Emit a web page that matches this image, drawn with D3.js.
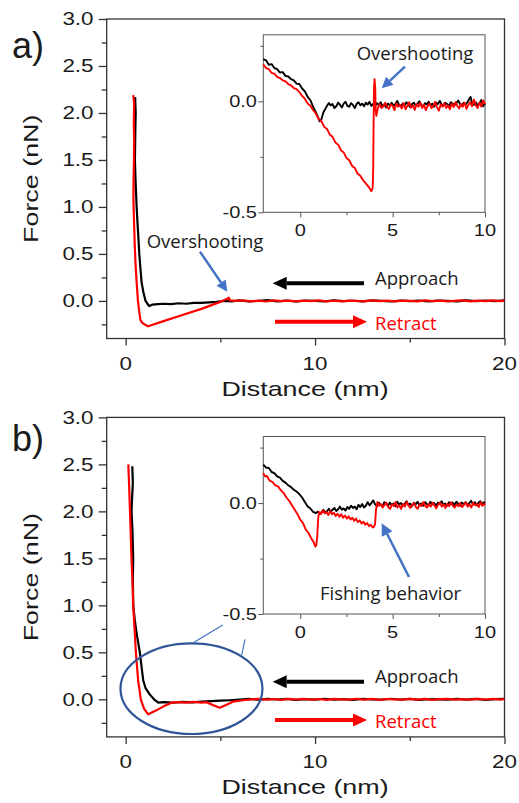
<!DOCTYPE html>
<html><head><meta charset="utf-8">
<script src="https://cdn.jsdelivr.net/npm/d3@7"></script>
<style>
html,body{margin:0;padding:0;background:#fff;}
svg{display:block;}
text{font-family:"Liberation Sans",Arial,sans-serif;}
.ann{font-family:"Open Sans","Noto Sans",sans-serif;}
</style></head>
<body>
<svg id="chart" width="519" height="803"></svg>
<script>
// ---------------- DATA ----------------
const mainYTicks = [0.0, 0.5, 1.0, 1.5, 2.0, 2.5, 3.0];
const mainYMinor = [-0.25, 0.25, 0.75, 1.25, 1.75, 2.25, 2.75];
const mainXTicks = [0, 10, 20];
const mainXMinor = [5, 15];
const insetYTicks = [0.0, -0.5];
const insetYMinor = [0.25, -0.25];
const insetXTicks = [0, 5, 10];
const insetXMinor = [2.5, 7.5];
const panelLabels = ["a)", "b)"];

// Panel a, main curves [distance nm, force nN]
const aApproach = [[0.50,2.17],[0.53,2.00],[0.51,1.80],[0.49,1.50],[0.52,1.30],[0.55,1.15],[0.58,1.00],[0.62,0.85],[0.68,0.65],[0.72,0.50],[0.78,0.35],[0.84,0.20],[0.93,0.10],[1.05,0.00],[1.15,-0.03],[1.24,-0.055],[1.40,-0.04],[1.70,-0.035],[2.00,-0.030],[2.40,-0.035],[2.80,-0.025],[3.20,-0.030],[3.60,-0.020],[4.00,-0.020],[4.40,-0.015],[4.80,-0.010],[5.20,0.000],[5.60,-0.005],[6.00,0.005],[6.50,-0.005],[7.00,0.000],[7.50,0.008],[8.00,-0.004],[8.50,0.003],[9.00,-0.006],[9.50,0.004],[10.0,0.000],[10.5,-0.005],[11.0,0.006],[11.5,-0.003],[12.0,0.002],[12.5,-0.004],[13.0,0.005],[13.5,0.000],[14.0,-0.006],[14.5,0.004],[15.0,-0.002],[15.5,0.003],[16.0,-0.005],[16.5,0.004],[17.0,0.000],[17.5,-0.004],[18.0,0.006],[18.5,-0.002],[19.0,0.003],[19.5,-0.003],[20.0,0.005]];
const aRetract = [[0.40,2.19],[0.45,2.10],[0.43,1.90],[0.45,1.70],[0.44,1.50],[0.42,1.30],[0.41,1.10],[0.42,1.00],[0.45,0.80],[0.48,0.60],[0.52,0.40],[0.58,0.20],[0.65,0.00],[0.72,-0.12],[0.78,-0.20],[0.86,-0.23],[1.00,-0.25],[1.19,-0.27],[2.00,-0.215],[3.00,-0.150],[4.00,-0.085],[5.00,-0.010],[5.35,0.020],[5.45,0.035],[5.50,0.005],[5.80,0.000],[6.20,0.006],[6.60,-0.004],[7.00,0.003],[7.40,-0.006],[7.80,0.005],[8.20,-0.002],[8.60,0.004],[9.00,-0.005],[9.40,0.003],[9.80,-0.003],[10.2,0.006],[10.6,-0.004],[11.0,0.002],[11.4,-0.005],[11.8,0.004],[12.2,0.000],[12.6,-0.004],[13.0,0.006],[13.4,-0.003],[13.8,0.004],[14.2,-0.005],[14.6,0.003],[15.0,0.000],[15.4,-0.004],[15.8,0.005],[16.2,-0.003],[16.6,0.004],[17.0,-0.005],[17.4,0.002],[17.8,0.005],[18.2,-0.004],[18.6,0.003],[19.0,-0.003],[19.4,0.005],[19.8,-0.002],[20.0,0.003]];

// Panel a, inset curves
const aInsetApproach = [[-2.00,0.19],[-1.85,0.185],[-1.70,0.165],[-1.55,0.168],[-1.40,0.15],[-1.25,0.145],[-1.10,0.13],[-0.95,0.132],[-0.80,0.115],[-0.65,0.112],[-0.50,0.10],[-0.35,0.095],[-0.20,0.08],[-0.05,0.078],[0.10,0.058],[0.25,0.045],[0.40,0.02],[0.55,0.005],[0.70,-0.025],[0.85,-0.05],[0.95,-0.07],[1.05,-0.09],[1.15,-0.08],[1.25,-0.05],[1.35,-0.035],[1.45,-0.02],[1.55,-0.008],[1.65,-0.018],[1.75,-0.012],[1.85,-0.03],[1.95,-0.022],[2.05,-0.006],[2.15,-0.015],[2.25,-0.028],[2.35,-0.01],[2.45,-0.002],[2.55,-0.02],[2.65,-0.024],[2.75,-0.008],[2.85,-0.016],[2.95,-0.03],[3.05,-0.012],[3.15,-0.004],[3.25,-0.018],[3.35,-0.01],[3.45,-0.022],[3.55,-0.006],[3.65,-0.014],[3.75,-0.002],[3.85,-0.02],[3.95,-0.012],[4.05,-0.025],[4.15,-0.008],[4.25,-0.016],[4.35,-0.004],[4.45,-0.022],[4.55,-0.014],[4.65,-0.028],[4.75,-0.01],[4.85,-0.018],[4.95,-0.006],[5.05,-0.02],[5.15,-0.012],[5.25,0.002],[5.35,-0.016],[5.45,-0.024],[5.55,-0.01],[5.65,-0.018],[5.75,-0.004],[5.85,-0.014],[5.95,-0.026],[6.05,-0.012],[6.15,-0.006],[6.25,-0.02],[6.35,-0.01],[6.45,0.0],[6.55,-0.016],[6.65,-0.022],[6.75,-0.008],[6.85,-0.014],[6.95,-0.002],[7.05,-0.018],[7.15,-0.01],[7.25,-0.024],[7.35,-0.006],[7.45,-0.012],[7.55,0.002],[7.65,-0.014],[7.75,-0.02],[7.85,-0.006],[7.95,-0.012],[8.05,-0.022],[8.15,-0.004],[8.25,-0.01],[8.35,-0.018],[8.45,-0.008],[8.55,0.004],[8.65,-0.012],[8.75,-0.02],[8.85,-0.006],[8.95,-0.014],[9.05,-0.004],[9.15,0.012],[9.22,0.02],[9.30,-0.008],[9.40,-0.016],[9.50,-0.004],[9.60,-0.02],[9.70,-0.008],[9.80,0.006],[9.90,-0.022],[10.0,-0.01]];
const aInsetRetract = [[-2.00,0.166],[-1.85,0.15],[-1.70,0.145],[-1.55,0.128],[-1.40,0.125],[-1.25,0.11],[-1.10,0.105],[-0.95,0.095],[-0.80,0.09],[-0.65,0.078],[-0.50,0.072],[-0.35,0.06],[-0.20,0.055],[-0.05,0.042],[0.10,0.025],[0.25,0.012],[0.40,-0.01],[0.55,-0.02],[0.70,-0.04],[0.85,-0.055],[1.00,-0.08],[1.15,-0.09],[1.30,-0.115],[1.45,-0.125],[1.60,-0.15],[1.75,-0.16],[1.90,-0.185],[2.05,-0.195],[2.20,-0.22],[2.35,-0.23],[2.50,-0.255],[2.65,-0.265],[2.80,-0.29],[2.95,-0.30],[3.10,-0.325],[3.25,-0.335],[3.40,-0.355],[3.55,-0.37],[3.70,-0.385],[3.85,-0.405],[3.92,-0.39],[3.95,-0.30],[3.97,-0.10],[3.99,0.05],[4.02,0.10],[4.06,0.06],[4.08,-0.04],[4.12,-0.065],[4.20,-0.03],[4.30,-0.012],[4.40,-0.03],[4.50,-0.022],[4.60,-0.006],[4.70,-0.026],[4.80,-0.034],[4.90,-0.014],[5.00,-0.02],[5.10,-0.04],[5.20,-0.01],[5.30,-0.024],[5.40,-0.016],[5.50,-0.032],[5.60,-0.008],[5.70,-0.036],[5.80,-0.02],[5.90,-0.004],[6.00,-0.028],[6.10,-0.018],[6.20,-0.038],[6.30,-0.012],[6.40,-0.024],[6.50,-0.006],[6.60,-0.03],[6.70,-0.016],[6.80,-0.04],[6.90,-0.02],[7.00,-0.01],[7.10,-0.03],[7.20,-0.022],[7.30,-0.002],[7.40,-0.026],[7.50,-0.042],[7.60,-0.014],[7.70,-0.024],[7.80,-0.008],[7.90,-0.03],[8.00,-0.018],[8.10,-0.036],[8.20,-0.01],[8.30,-0.026],[8.40,-0.004],[8.50,-0.02],[8.60,-0.032],[8.70,-0.012],[8.80,-0.024],[8.90,-0.006],[9.00,-0.034],[9.10,-0.016],[9.20,-0.004],[9.30,-0.022],[9.40,0.008],[9.50,-0.018],[9.60,-0.03],[9.70,-0.006],[9.80,-0.024],[9.90,0.004],[10.0,-0.012]];

// Panel b, main curves
const bApproach = [[0.35,2.48],[0.38,2.30],[0.33,2.10],[0.31,2.00],[0.36,1.80],[0.40,1.50],[0.38,1.30],[0.40,1.00],[0.48,0.85],[0.58,0.70],[0.75,0.50],[0.85,0.33],[0.93,0.20],[1.05,0.12],[1.28,0.05],[1.50,0.00],[1.72,-0.035],[2.00,-0.030],[2.50,-0.035],[3.00,-0.028],[3.50,-0.032],[4.00,-0.025],[4.50,-0.020],[5.00,-0.015],[5.50,-0.010],[6.00,-0.003],[6.50,0.004],[7.00,-0.004],[7.50,0.005],[8.00,-0.002],[8.50,0.004],[9.00,-0.005],[9.50,0.003],[10.0,-0.003],[10.5,0.006],[11.0,-0.004],[11.5,0.002],[12.0,-0.005],[12.5,0.004],[13.0,0.000],[13.5,-0.004],[14.0,0.006],[14.5,-0.003],[15.0,0.004],[15.5,-0.005],[16.0,0.003],[16.5,0.000],[17.0,-0.004],[17.5,0.005],[18.0,-0.003],[18.5,0.004],[19.0,-0.005],[19.5,0.002],[20.0,0.005]];
const bRetract = [[0.14,2.50],[0.18,2.30],[0.23,2.00],[0.27,1.75],[0.31,1.50],[0.36,1.25],[0.40,1.00],[0.47,0.75],[0.54,0.50],[0.60,0.35],[0.66,0.20],[0.73,0.10],[0.80,0.00],[0.97,-0.10],[1.19,-0.16],[1.60,-0.12],[2.00,-0.075],[2.42,-0.036],[2.80,-0.030],[3.20,-0.035],[3.60,-0.028],[4.00,-0.035],[4.26,-0.030],[4.60,-0.060],[4.96,-0.090],[5.30,-0.060],[5.66,-0.025],[6.20,-0.010],[6.60,0.000],[7.00,0.005],[7.40,-0.004],[7.80,0.003],[8.20,-0.005],[8.60,0.004],[9.00,-0.002],[9.40,0.005],[9.80,-0.004],[10.2,0.003],[10.6,-0.005],[11.0,0.004],[11.4,0.000],[11.8,-0.004],[12.2,0.006],[12.6,-0.003],[13.0,0.004],[13.4,-0.005],[13.8,0.003],[14.2,0.000],[14.6,-0.004],[15.0,0.005],[15.4,-0.003],[15.8,0.004],[16.2,-0.005],[16.6,0.002],[17.0,0.005],[17.4,-0.004],[17.8,0.003],[18.2,-0.003],[18.6,0.005],[19.0,-0.002],[19.4,0.004],[19.8,-0.003],[20.0,0.004]];

// Panel b, inset curves
const bInsetApproach = [[-2.00,0.173],[-1.85,0.16],[-1.70,0.158],[-1.55,0.14],[-1.40,0.135],[-1.25,0.12],[-1.10,0.115],[-0.95,0.10],[-0.80,0.092],[-0.65,0.08],[-0.50,0.072],[-0.35,0.06],[-0.20,0.052],[-0.05,0.04],[0.10,0.025],[0.25,0.005],[0.40,-0.015],[0.55,-0.025],[0.70,-0.04],[0.85,-0.045],[0.95,-0.038],[1.05,-0.048],[1.15,-0.042],[1.25,-0.03],[1.35,-0.044],[1.45,-0.036],[1.55,-0.026],[1.65,-0.04],[1.75,-0.03],[1.85,-0.022],[1.95,-0.036],[2.05,-0.028],[2.15,-0.016],[2.25,-0.03],[2.35,-0.024],[2.45,-0.034],[2.55,-0.018],[2.65,-0.026],[2.75,-0.012],[2.85,-0.022],[2.95,-0.016],[3.05,-0.028],[3.15,-0.008],[3.25,-0.018],[3.35,-0.004],[3.45,-0.02],[3.55,-0.012],[3.65,0.004],[3.75,-0.01],[3.85,0.0],[3.95,0.012],[4.05,-0.006],[4.15,-0.014],[4.25,0.002],[4.35,-0.008],[4.45,-0.016],[4.55,0.004],[4.65,-0.004],[4.75,-0.012],[4.85,0.002],[4.95,-0.01],[5.05,-0.002],[5.15,-0.014],[5.25,0.006],[5.35,-0.006],[5.45,0.0],[5.55,-0.012],[5.65,-0.004],[5.75,0.008],[5.85,-0.008],[5.95,-0.002],[6.05,-0.014],[6.15,0.002],[6.25,-0.006],[6.35,0.006],[6.45,-0.01],[6.55,-0.002],[6.65,-0.012],[6.75,0.004],[6.85,-0.004],[6.95,-0.01],[7.05,0.006],[7.15,-0.006],[7.25,0.0],[7.35,-0.012],[7.45,0.002],[7.55,-0.004],[7.65,0.008],[7.75,-0.008],[7.85,-0.002],[7.95,-0.012],[8.05,0.004],[8.15,-0.006],[8.25,0.002],[8.35,-0.01],[8.45,0.006],[8.55,-0.004],[8.65,-0.012],[8.75,0.002],[8.85,-0.006],[8.95,0.004],[9.05,-0.008],[9.15,0.0],[9.25,0.01],[9.35,-0.006],[9.45,0.004],[9.55,-0.01],[9.65,0.002],[9.75,0.008],[9.85,-0.006],[9.95,0.004],[10.0,0.0]];
const bInsetRetract = [[-2.00,0.135],[-1.90,0.12],[-1.80,0.122],[-1.65,0.10],[-1.50,0.095],[-1.35,0.08],[-1.20,0.075],[-1.05,0.058],[-0.90,0.045],[-0.75,0.025],[-0.60,0.01],[-0.45,-0.01],[-0.30,-0.03],[-0.15,-0.05],[0.00,-0.075],[0.15,-0.09],[0.30,-0.12],[0.45,-0.135],[0.60,-0.16],[0.72,-0.175],[0.81,-0.196],[0.87,-0.19],[0.92,-0.15],[0.97,-0.07],[1.02,-0.04],[1.12,-0.05],[1.22,-0.032],[1.32,-0.046],[1.42,-0.04],[1.52,-0.054],[1.62,-0.036],[1.72,-0.05],[1.82,-0.044],[1.92,-0.058],[2.02,-0.048],[2.12,-0.062],[2.22,-0.05],[2.32,-0.066],[2.42,-0.056],[2.52,-0.07],[2.62,-0.06],[2.72,-0.074],[2.82,-0.066],[2.92,-0.08],[3.02,-0.07],[3.12,-0.086],[3.22,-0.078],[3.32,-0.092],[3.42,-0.084],[3.52,-0.098],[3.62,-0.09],[3.72,-0.104],[3.82,-0.098],[3.92,-0.11],[3.98,-0.108],[4.05,-0.095],[4.10,-0.03],[4.18,0.005],[4.26,-0.012],[4.36,-0.004],[4.46,-0.02],[4.56,-0.008],[4.66,0.002],[4.76,-0.018],[4.86,-0.026],[4.96,-0.006],[5.06,-0.014],[5.16,0.004],[5.26,-0.02],[5.36,-0.01],[5.46,-0.026],[5.56,-0.004],[5.66,-0.016],[5.76,0.006],[5.86,-0.012],[5.96,-0.022],[6.06,-0.008],[6.16,0.0],[6.26,-0.018],[6.36,-0.026],[6.46,-0.006],[6.56,-0.014],[6.66,0.004],[6.76,-0.012],[6.86,-0.02],[6.96,-0.004],[7.06,-0.016],[7.16,0.002],[7.26,-0.01],[7.36,-0.024],[7.46,-0.008],[7.56,0.002],[7.66,-0.016],[7.76,-0.006],[7.86,-0.022],[7.96,-0.004],[8.06,-0.014],[8.16,0.004],[8.26,-0.012],[8.36,-0.02],[8.46,-0.006],[8.56,-0.014],[8.66,0.0],[8.76,-0.018],[8.86,-0.008],[8.96,0.004],[9.06,-0.016],[9.16,-0.006],[9.26,-0.02],[9.36,0.002],[9.46,-0.01],[9.56,-0.004],[9.66,-0.018],[9.76,0.004],[9.86,-0.012],[9.96,-0.004],[10.0,-0.01]];

// ---------------- DRAWING ----------------
const svg = d3.select("#chart");
const RED = "#ff0000", BLACK = "#000000", BLUE = "#4472c4", DARKBLUE = "#2f5597";
const SX = 1.28; // horizontal stretch of the original figure's text

function stext(g, x, y, str, o = {}) {
  const t = g.append("text")
    .attr("transform", `translate(${x},${y}) scale(${o.sx || 1},1)`)
    .attr("font-size", o.size || 17)
    .attr("text-anchor", o.anchor || "start")
    .attr("fill", o.fill || "#1a1a1a")
    .text(str);
  if (o.cls) t.attr("class", o.cls);
  if (o.dy) t.attr("dy", o.dy);
  return t;
}

function arrow(g, x1, y1, x2, y2, color, width, headLen, headHalf) {
  const ang = Math.atan2(y2 - y1, x2 - x1);
  const bx = x2 - headLen * Math.cos(ang), by = y2 - headLen * Math.sin(ang);
  g.append("line").attr("x1", x1).attr("y1", y1).attr("x2", bx).attr("y2", by)
    .attr("stroke", color).attr("stroke-width", width);
  const px = -Math.sin(ang) * headHalf, py = Math.cos(ang) * headHalf;
  g.append("path")
    .attr("d", `M${x2},${y2}L${bx + px},${by + py}L${bx - px},${by - py}Z`)
    .attr("fill", color);
}

function drawPanel(cfg) {
  const g = svg.append("g");
  const x = d3.scaleLinear().domain([-1, 20]).range([106.7, 504.5]);
  const y = d3.scaleLinear().domain([-0.4, 3.0]).range([cfg.top + 319.5, cfg.top]);
  const axisCol = "#333";

  g.append("rect").attr("x", x.range()[0]).attr("y", cfg.top)
    .attr("width", x.range()[1] - x.range()[0]).attr("height", 319.5)
    .attr("fill", "none").attr("stroke", axisCol).attr("stroke-width", 1.3);

  const mk = ax => {
    const a = g.append("g").call(ax);
    a.select(".domain").remove();
    a.selectAll("line").attr("stroke", axisCol).attr("stroke-width", 1.3);
    a.selectAll("text").remove();
    return a;
  };
  mk(d3.axisLeft(y).tickValues(mainYTicks).tickSize(8).tickFormat(""))
    .attr("transform", `translate(${x.range()[0]},0)`);
  mk(d3.axisLeft(y).tickValues(mainYMinor).tickSize(5).tickFormat(""))
    .attr("transform", `translate(${x.range()[0]},0)`);
  mk(d3.axisBottom(x).tickValues(mainXTicks).tickSize(7).tickFormat(""))
    .attr("transform", `translate(0,${y.range()[0]})`);
  mk(d3.axisBottom(x).tickValues(mainXMinor).tickSize(4).tickFormat(""))
    .attr("transform", `translate(0,${y.range()[0]})`);

  mainYTicks.forEach(v => stext(g, 93.5, y(v), d3.format(".1f")(v),
    { anchor: "end", size: 17.5, sx: SX, dy: "0.36em" }));
  mainXTicks.forEach(v => stext(g, x(v), y.range()[0] + 31, String(v),
    { anchor: "middle", size: 17.5, sx: SX }));

  stext(g, 305, y.range()[0] + 57, "Distance (nm)", { anchor: "middle", size: 21, sx: SX });
  g.append("text")
    .attr("transform", `translate(38,${y(1.3)}) rotate(-90) scale(${SX},1)`)
    .attr("font-size", 21).attr("text-anchor", "middle").attr("fill", "#1a1a1a")
    .text("Force (nN)");

  stext(g, 12, cfg.labelY, cfg.label, { size: 36 });

  const line = d3.line().x(d => x(d[0])).y(d => y(d[1]));
  g.append("path").datum(cfg.approach).attr("d", line)
    .attr("fill", "none").attr("stroke", BLACK).attr("stroke-width", 2.2).attr("stroke-linejoin", "round");
  g.append("path").datum(cfg.retract).attr("d", line)
    .attr("fill", "none").attr("stroke", RED).attr("stroke-width", 2.2).attr("stroke-linejoin", "round");

  const ay = cfg.top + 264.3, ry = cfg.top + 302.7;
  arrow(g, 364, ay, 272.7, ay, BLACK, 4, 14, 6.5);
  arrow(g, 275, ry, 367, ry, RED, 4, 14, 6.5);
  stext(g, 375, ay + 1.7, "Approach", { size: 18.5, cls: "ann", fill: "#1a1a1a" });
  stext(g, 375, ry + 8, "Retract", { size: 18.5, cls: "ann", fill: RED });

  const ig = g.append("g");
  const ix = d3.scaleLinear().domain([-2, 10]).range([263.3, 485]);
  const iy = d3.scaleLinear().domain([-0.5, 0.3]).range([cfg.insetBottom, cfg.insetBottom - 177.5]);
  ig.append("rect").attr("x", 263.3).attr("y", iy.range()[1])
    .attr("width", 485 - 263.3).attr("height", 177.5)
    .attr("fill", "#fff").attr("stroke", "#555").attr("stroke-width", 1);
  const mki = ax => {
    const a = ig.append("g").call(ax);
    a.select(".domain").remove();
    a.selectAll("line").attr("stroke", "#555").attr("stroke-width", 1);
    a.selectAll("text").remove();
    return a;
  };
  mki(d3.axisLeft(iy).tickValues(insetYTicks).tickSize(5).tickFormat("")).attr("transform", "translate(263.3,0)");
  mki(d3.axisLeft(iy).tickValues(insetYMinor).tickSize(3).tickFormat("")).attr("transform", "translate(263.3,0)");
  mki(d3.axisBottom(ix).tickValues(insetXTicks).tickSize(5).tickFormat("")).attr("transform", `translate(0,${iy.range()[0]})`);
  mki(d3.axisBottom(ix).tickValues(insetXMinor).tickSize(3).tickFormat("")).attr("transform", `translate(0,${iy.range()[0]})`);
  insetYTicks.forEach(v => stext(ig, 257, iy(v), d3.format(".1f")(v).replace("−", "-"),
    { anchor: "end", size: 16, sx: 1.25, dy: "0.36em" }));
  insetXTicks.forEach(v => stext(ig, ix(v), iy.range()[0] + 24, String(v),
    { anchor: "middle", size: 16, sx: 1.25 }));
  const iline = d3.line().x(d => ix(d[0])).y(d => iy(d[1]));
  ig.append("path").datum(cfg.insetApproach).attr("d", iline)
    .attr("fill", "none").attr("stroke", BLACK).attr("stroke-width", 1.9).attr("stroke-linejoin", "round");
  ig.append("path").datum(cfg.insetRetract).attr("d", iline)
    .attr("fill", "none").attr("stroke", RED).attr("stroke-width", 1.9).attr("stroke-linejoin", "round");
  return g;
}

const gA = drawPanel({ top: 19, label: panelLabels[0], labelY: 58, approach: aApproach, retract: aRetract,
  insetBottom: 212.3, insetApproach: aInsetApproach, insetRetract: aInsetRetract });
const gB = drawPanel({ top: 417.4, label: panelLabels[1], labelY: 451, approach: bApproach, retract: bRetract,
  insetBottom: 614, insetApproach: bInsetApproach, insetRetract: bInsetRetract });

stext(gA, 146.7, 248.3, "Overshooting", { size: 18.5, cls: "ann" });
arrow(gA, 200, 251.7, 227.3, 291.7, BLUE, 2.5, 11, 5.5);
stext(gA, 356.7, 60, "Overshooting", { size: 18.5, cls: "ann" });
arrow(gA, 405, 66.7, 381.7, 88.3, BLUE, 2.5, 11, 5.5);

stext(gB, 320, 600, "Fishing behavior", { size: 18.5, cls: "ann" });
arrow(gB, 409, 577, 381.7, 523.3, BLUE, 2.5, 12, 6);
gB.append("ellipse").attr("cx", 191.5).attr("cy", 688.7).attr("rx", 71).attr("ry", 45.3)
  .attr("fill", "none").attr("stroke", DARKBLUE).attr("stroke-width", 2.2);
gB.append("line").attr("x1", 193.3).attr("y1", 642.7).attr("x2", 222.7).attr("y2", 625)
  .attr("stroke", BLUE).attr("stroke-width", 1.2);
gB.append("line").attr("x1", 241.7).attr("y1", 655).attr("x2", 245).attr("y2", 639.3)
  .attr("stroke", BLUE).attr("stroke-width", 1.2);
</script>
</body></html>
